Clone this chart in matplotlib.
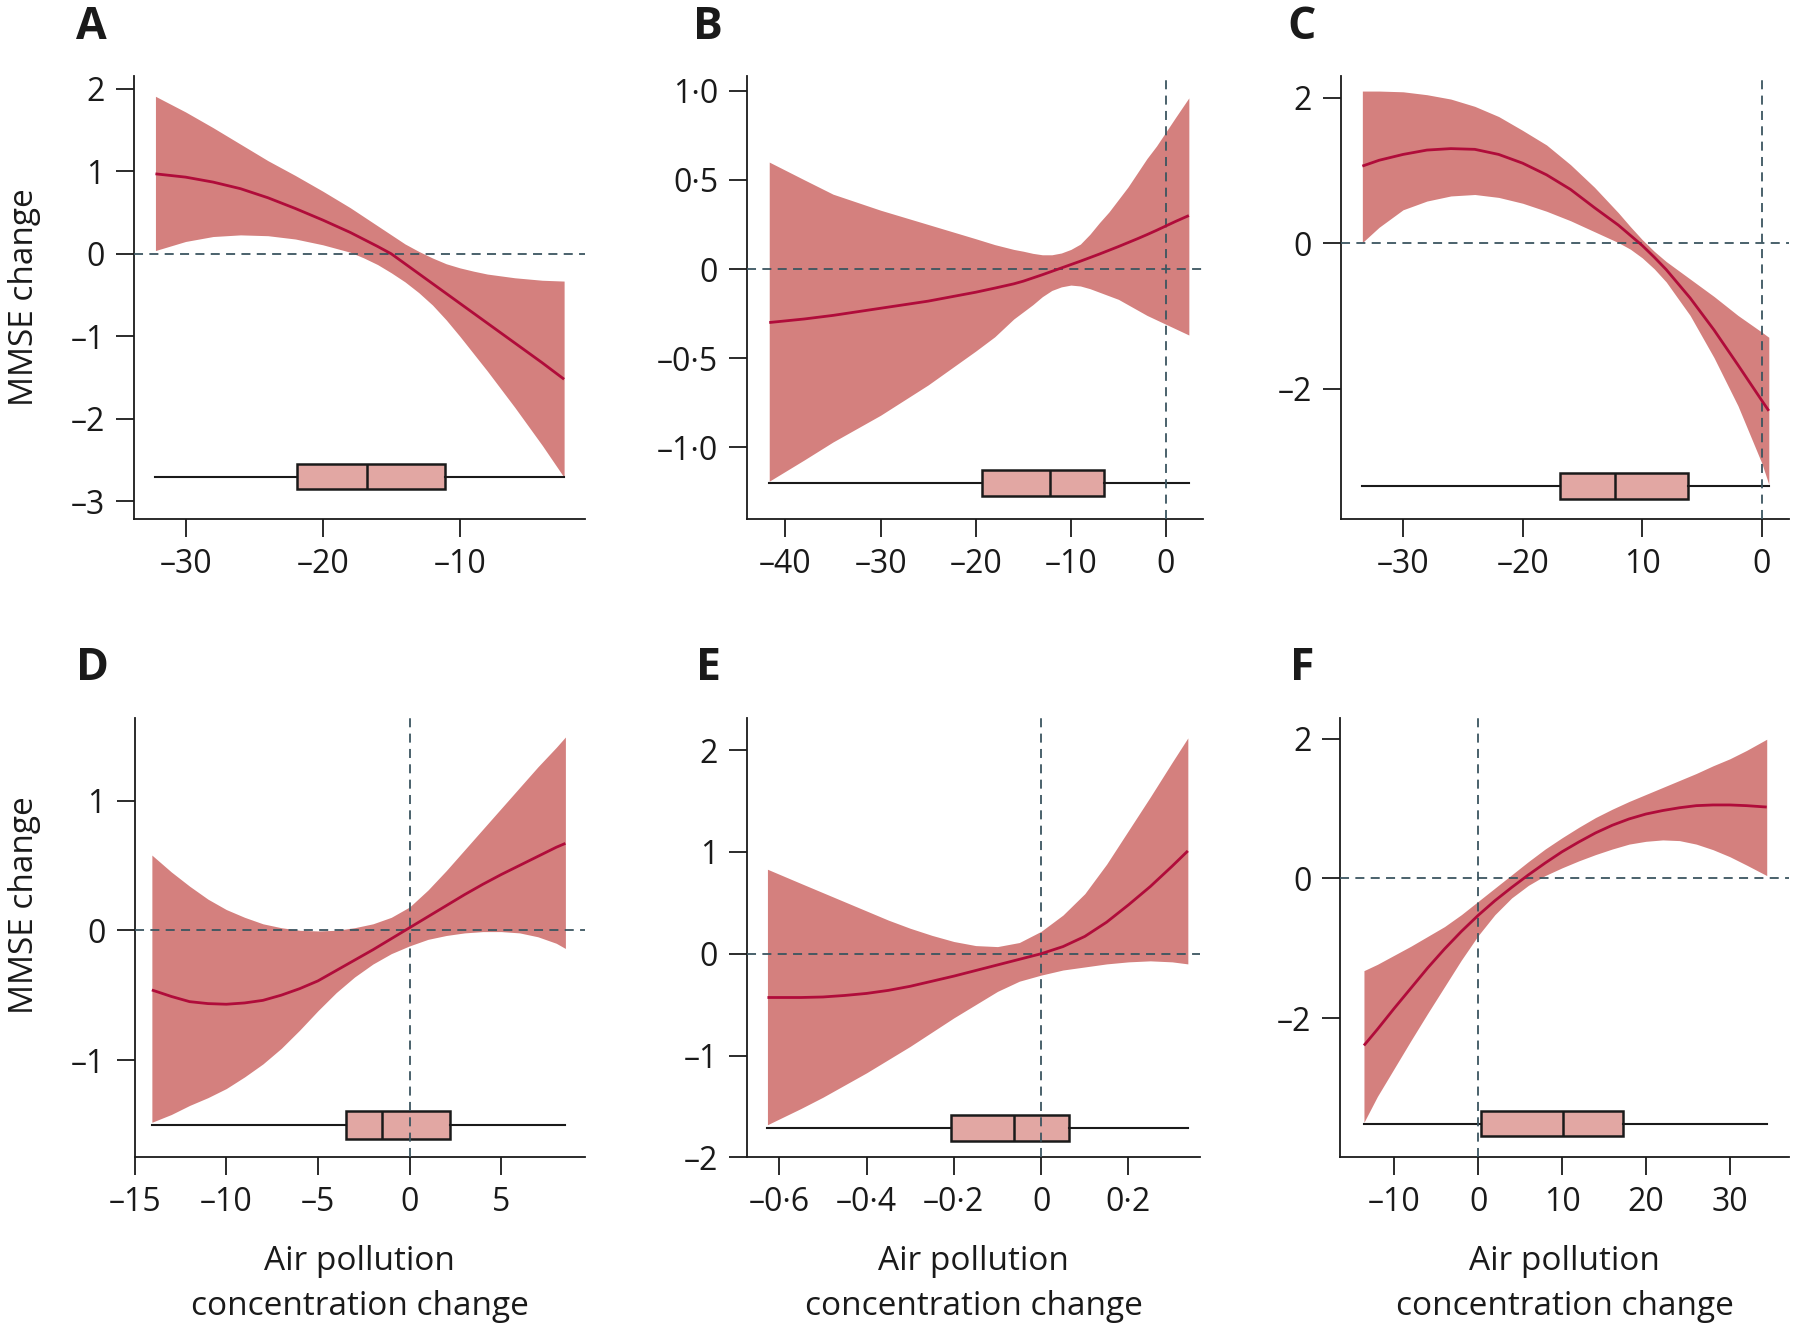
import matplotlib
matplotlib.use("Agg")
import matplotlib.pyplot as plt

plt.rcParams["font.family"] = ["Open Sans", "DejaVu Sans"]

# colours
BAND = "#d4807e"
LINE = "#b00c3a"
BOXFACE = "#e2a7a3"
REF = "#3b5560"
INK = "#1a1a1a"

# ---- panel A ----
a_x = [-32.2, -30, -28, -26, -24, -22, -20, -18, -17, -16, -15, -14, -13, -12, -11, -10, -9, -8, -6, -4, -2.4]
a_fit = [0.97, 0.93, 0.87, 0.79, 0.68, 0.55, 0.41, 0.26, 0.175, 0.09, 0.0, -0.12, -0.24, -0.36, -0.48, -0.60, -0.72, -0.84, -1.08, -1.32, -1.52]
a_hi = [1.91, 1.72, 1.53, 1.33, 1.13, 0.95, 0.76, 0.56, 0.45, 0.34, 0.23, 0.12, 0.03, -0.05, -0.12, -0.17, -0.21, -0.245, -0.29, -0.32, -0.33]
a_lo = [0.04, 0.15, 0.21, 0.23, 0.22, 0.18, 0.11, 0.02, -0.05, -0.13, -0.23, -0.34, -0.47, -0.62, -0.80, -1.00, -1.21, -1.42, -1.86, -2.32, -2.71]
a_box = dict(whislo=-32.2, q1=-21.9, med=-16.8, q3=-11.1, whishi=-2.4)
a_box_y = -2.70

# ---- panel B ----
b_x = [-41.7, -38, -35, -30, -25, -20, -18, -16, -15, -14, -13, -12, -11, -10, -9, -8, -7, -6, -5, -4, -3, -2, -1, 0, 1, 2.4]
b_fit = [-0.30, -0.28, -0.26, -0.22, -0.18, -0.13, -0.107, -0.083, -0.068, -0.05, -0.032, -0.013, 0.006, 0.025, 0.044, 0.064, 0.084, 0.105, 0.126, 0.148, 0.17, 0.193, 0.217, 0.242, 0.267, 0.30]
b_hi = [0.60, 0.50, 0.42, 0.33, 0.25, 0.17, 0.137, 0.11, 0.10, 0.088, 0.08, 0.08, 0.09, 0.11, 0.14, 0.195, 0.26, 0.32, 0.39, 0.46, 0.54, 0.62, 0.69, 0.77, 0.85, 0.96]
b_lo = [-1.19, -1.07, -0.97, -0.82, -0.65, -0.46, -0.38, -0.28, -0.24, -0.20, -0.155, -0.12, -0.10, -0.09, -0.095, -0.11, -0.13, -0.15, -0.17, -0.20, -0.23, -0.26, -0.285, -0.31, -0.335, -0.37]
b_box = dict(whislo=-41.7, q1=-19.3, med=-12.2, q3=-6.5, whishi=2.4)
b_box_y = -1.20

# ---- panel C ----
c_x = [-33.4, -32, -30, -28, -26, -24, -22, -20, -18, -16, -14, -12, -11, -10, -9, -8, -6, -4, -2, 0, 0.58]
c_fit = [1.06, 1.14, 1.22, 1.28, 1.30, 1.29, 1.22, 1.10, 0.94, 0.74, 0.49, 0.25, 0.11, -0.03, -0.19, -0.36, -0.75, -1.19, -1.67, -2.16, -2.30]
c_hi = [2.09, 2.09, 2.08, 2.04, 1.98, 1.88, 1.74, 1.55, 1.35, 1.08, 0.77, 0.42, 0.23, 0.05, -0.11, -0.25, -0.49, -0.73, -0.99, -1.22, -1.29]
c_lo = [0.01, 0.22, 0.46, 0.58, 0.65, 0.67, 0.63, 0.55, 0.44, 0.31, 0.16, 0.01, -0.08, -0.20, -0.35, -0.53, -0.99, -1.57, -2.23, -3.02, -3.31]
c_box = dict(whislo=-33.4, q1=-16.9, med=-12.3, q3=-6.2, whishi=0.58)
c_box_y = -3.33

# ---- panel D ----
d_x = [-14.06, -13, -12, -11, -10, -9, -8, -7, -6, -5, -4, -3, -2, -1, 0, 1, 2, 3, 4, 5, 6, 7, 8, 8.5]
d_fit = [-0.46, -0.51, -0.55, -0.565, -0.57, -0.56, -0.54, -0.50, -0.45, -0.39, -0.31, -0.23, -0.15, -0.065, 0.02, 0.105, 0.19, 0.275, 0.355, 0.43, 0.50, 0.57, 0.64, 0.67]
d_hi = [0.58, 0.45, 0.34, 0.24, 0.16, 0.10, 0.05, 0.02, 0.0, -0.005, 0.0, 0.02, 0.05, 0.10, 0.18, 0.31, 0.46, 0.62, 0.78, 0.94, 1.10, 1.26, 1.41, 1.49]
d_lo = [-1.48, -1.42, -1.35, -1.29, -1.22, -1.13, -1.03, -0.91, -0.77, -0.62, -0.48, -0.36, -0.26, -0.18, -0.12, -0.07, -0.04, -0.02, -0.01, -0.01, -0.02, -0.05, -0.10, -0.14]
d_box = dict(whislo=-14.06, q1=-3.45, med=-1.52, q3=2.19, whishi=8.5)
d_box_y = -1.50

# ---- panel E ----
e_x = [-0.627, -0.55, -0.5, -0.45, -0.4, -0.35, -0.3, -0.25, -0.2, -0.15, -0.1, -0.05, 0, 0.05, 0.1, 0.15, 0.2, 0.25, 0.3, 0.336]
e_fit = [-0.43, -0.43, -0.425, -0.41, -0.39, -0.36, -0.32, -0.27, -0.22, -0.165, -0.11, -0.055, 0.0, 0.07, 0.17, 0.31, 0.48, 0.66, 0.86, 1.01]
e_hi = [0.83, 0.69, 0.60, 0.51, 0.42, 0.33, 0.25, 0.18, 0.12, 0.08, 0.07, 0.11, 0.22, 0.38, 0.59, 0.88, 1.21, 1.54, 1.88, 2.12]
e_lo = [-1.68, -1.52, -1.41, -1.29, -1.17, -1.04, -0.91, -0.77, -0.63, -0.50, -0.37, -0.27, -0.21, -0.16, -0.13, -0.10, -0.08, -0.07, -0.08, -0.10]
e_box = dict(whislo=-0.627, q1=-0.206, med=-0.062, q3=0.063, whishi=0.336)
e_box_y = -1.71

# ---- panel F ----
f_x = [-13.6, -12, -10, -8, -6, -4, -2, 0, 2, 4, 6, 8, 10, 12, 14, 16, 18, 20, 22, 24, 26, 28, 30, 32, 34.4]
f_fit = [-2.39, -2.16, -1.86, -1.57, -1.28, -1.01, -0.76, -0.53, -0.32, -0.13, 0.05, 0.22, 0.38, 0.52, 0.65, 0.76, 0.85, 0.92, 0.97, 1.01, 1.04, 1.05, 1.05, 1.04, 1.02]
f_hi = [-1.32, -1.23, -1.10, -0.97, -0.83, -0.69, -0.52, -0.33, -0.14, 0.05, 0.24, 0.42, 0.58, 0.73, 0.87, 0.99, 1.10, 1.20, 1.30, 1.40, 1.50, 1.61, 1.71, 1.83, 1.99]
f_lo = [-3.49, -3.12, -2.72, -2.32, -1.93, -1.55, -1.17, -0.82, -0.52, -0.28, -0.10, 0.04, 0.15, 0.25, 0.34, 0.42, 0.49, 0.53, 0.55, 0.54, 0.49, 0.41, 0.31, 0.19, 0.04]
f_box = dict(whislo=-13.6, q1=0.32, med=10.07, q3=17.3, whishi=34.4)
f_box_y = -3.51

# ---- ticks ----
a_xticks, a_xlabels = [-30, -20, -10], ["–30", "–20", "–10"]
a_yticks, a_ylabels = [2, 1, 0, -1, -2, -3], ["2", "1", "0", "–1", "–2", "–3"]
b_xticks, b_xlabels = [-40, -30, -20, -10, 0], ["–40", "–30", "–20", "–10", "0"]
b_yticks, b_ylabels = [1.0, 0.5, 0, -0.5, -1.0], ["1·0", "0·5", "0", "–0·5", "–1·0"]
c_xticks, c_xlabels = [-30, -20, -10, 0], ["–30", "–20", "10", "0"]
c_yticks, c_ylabels = [2, 0, -2], ["2", "0", "–2"]
d_xticks, d_xlabels = [-15, -10, -5, 0, 5], ["–15", "–10", "–5", "0", "5"]
d_yticks, d_ylabels = [1, 0, -1], ["1", "0", "–1"]
e_xticks, e_xlabels = [-0.6, -0.4, -0.2, 0, 0.2], ["–0·6", "–0·4", "–0·2", "0", "0·2"]
e_yticks, e_ylabels = [2, 1, 0, -1, -2], ["2", "1", "0", "–1", "–2"]
f_xticks, f_xlabels = [-10, 0, 10, 20, 30], ["–10", "0", "10", "20", "30"]
f_yticks, f_ylabels = [2, 0, -2], ["2", "0", "–2"]

panels = [
    # letter, rect, xlim, ylim, x, fit, lo, hi, box, box_y, box half-height, ticks, vline
    ("A", [0.0744, 0.6115, 0.2508, 0.3312], (-33.77, -0.85), (-3.21, 2.15),
     a_x, a_fit, a_lo, a_hi, a_box, a_box_y, 0.15, a_xticks, a_xlabels, a_yticks, a_ylabels, False),
    ("B", [0.4152, 0.6115, 0.2532, 0.3312], (-44.0, 3.9), (-1.40, 1.08),
     b_x, b_fit, b_lo, b_hi, b_box, b_box_y, 0.073, b_xticks, b_xlabels, b_yticks, b_ylabels, True),
    ("C", [0.7449, 0.6115, 0.2492, 0.3312], (-35.2, 2.3), (-3.78, 2.29),
     c_x, c_fit, c_lo, c_hi, c_box, c_box_y, 0.18, c_xticks, c_xlabels, c_yticks, c_ylabels, True),
    ("D", [0.0748, 0.1331, 0.2501, 0.3294], (-15.0, 9.56), (-1.75, 1.64),
     d_x, d_fit, d_lo, d_hi, d_box, d_box_y, 0.106, d_xticks, d_xlabels, d_yticks, d_ylabels, True),
    ("E", [0.4152, 0.1331, 0.2515, 0.3294], (-0.673, 0.364), (-2.0, 2.32),
     e_x, e_fit, e_lo, e_hi, e_box, e_box_y, 0.13, e_xticks, e_xlabels, e_yticks, e_ylabels, True),
    ("F", [0.7447, 0.1331, 0.2494, 0.3294], (-16.4, 37.1), (-3.99, 2.30),
     f_x, f_fit, f_lo, f_hi, f_box, f_box_y, 0.18, f_xticks, f_xlabels, f_yticks, f_ylabels, True),
]

letter_pos = {"A": (76, 39), "B": (693, 39), "C": (1287, 39),
              "D": (76, 680), "E": (696, 680), "F": (1290, 680)}

fig = plt.figure(figsize=(18, 13.35), dpi=100)

for (letter, rect, xlim, ylim, x, fit, lo, hi, box, box_y, half,
     xt, xtl, yt, ytl, vline) in panels:
    ax = fig.add_axes(rect)
    ax.fill_between(x, lo, hi, color=BAND, lw=0, zorder=1)
    ax.plot(x, fit, color=LINE, lw=2.0, zorder=4, solid_capstyle="butt",
            solid_joinstyle="round")

    stats = dict(box, fliers=[])
    ax.bxp([stats], positions=[box_y], widths=2 * half, orientation="horizontal",
           patch_artist=True, showcaps=False, showfliers=False, manage_ticks=False,
           boxprops=dict(facecolor=BOXFACE, edgecolor=INK, lw=1.8),
           whiskerprops=dict(color=INK, lw=1.5),
           medianprops=dict(color=INK, lw=1.8), zorder=2)

    ax.axhline(0, color=REF, lw=1.3, dashes=(5, 3.5), zorder=3)
    if vline:
        ax.axvline(0, color=REF, lw=1.3, dashes=(5, 3.5), zorder=3)

    ax.set_xlim(*xlim)
    ax.set_ylim(*ylim)
    ax.set_xticks(xt, xtl)
    ax.set_yticks(yt, ytl)
    for side in ("top", "right"):
        ax.spines[side].set_visible(False)
    for side in ("left", "bottom"):
        ax.spines[side].set_linewidth(1.3)
        ax.spines[side].set_color(INK)
    ax.tick_params(length=13, width=1.3, color=INK, labelsize=23, pad=8,
                   labelcolor=INK)

    if letter in ("D", "E", "F"):
        ax.set_xlabel("Air pollution\nconcentration change", fontsize=24,
                      linespacing=1.5, color=INK)
        ax.xaxis.set_label_coords(0.5, -0.199)

    lx, ly = letter_pos[letter]
    fig.text(lx / 1800, 1 - ly / 1335, letter, fontsize=32, fontweight="bold",
             va="baseline", ha="left", color=INK)

fig.text(25 / 1800, 1 - 297 / 1335, "MMSE change", rotation=90, fontsize=24,
         va="center", ha="center", color=INK)
fig.text(25 / 1800, 1 - 905 / 1335, "MMSE change", rotation=90, fontsize=24,
         va="center", ha="center", color=INK)

fig.savefig("out.png", dpi=100)
